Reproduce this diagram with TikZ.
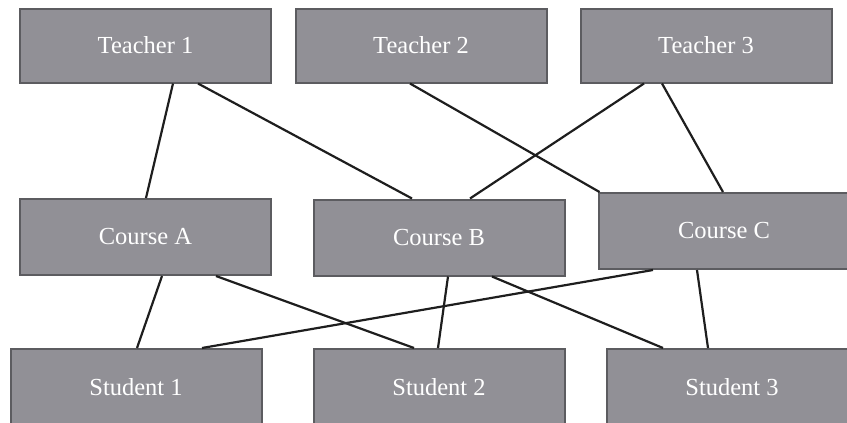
\documentclass[tikz,border=0pt]{standalone}
\usepackage{fontspec}
\setmainfont{Liberation Serif}
\begin{document}
\begin{tikzpicture}[x=1pt,y=-1pt,
  box/.style={draw=boxborder, line width=2pt, fill=boxfill, text=white,
    minimum width=251pt, minimum height=74pt, inner sep=0pt, font=\fontsize{24.5}{27}\selectfont},
  link/.style={draw=linkcol, line width=2.2pt}]
\definecolor{boxfill}{RGB}{145,144,150}
\definecolor{boxborder}{RGB}{92,92,96}
\definecolor{linkcol}{RGB}{30,30,30}
\useasboundingbox (0,0) rectangle (847,423);
\clip (0,0) rectangle (847,423);
\node[box] (t1) at (145.5,45.5) {Teacher 1};
\node[box] (t2) at (421,45.5) {Teacher 2};
\node[box] (t3) at (706,45.5) {Teacher 3};
\node[box, minimum height=76pt] (ca) at (145.5,237) {Course A};
\node[box, minimum height=76pt] (cb) at (439,237.5) {Course B};
\node[box, minimum height=76pt] (cc) at (724,231) {Course C};
\node[box, minimum height=76pt] (s1) at (136,387) {Student 1};
\node[box, minimum height=76pt] (s2) at (439,387) {Student 2};
\node[box, minimum height=76pt] (s3) at (732,387) {Student 3};
\draw[link] ([xshift=27.5pt]t1.south) -- ([xshift=0.5pt]ca.north);
\draw[link] ([xshift=52.5pt]t1.south) -- ([xshift=-27pt]cb.north);
\draw[link] ([xshift=-11pt]t2.south) -- ([xshift=2pt]cc.north west);
\draw[link] ([xshift=-62pt]t3.south) -- ([xshift=31pt]cb.north);
\draw[link] ([xshift=-44pt]t3.south) -- ([xshift=-1pt]cc.north);
\draw[link] ([xshift=16.5pt]ca.south) -- ([xshift=1pt]s1.north);
\draw[link] ([xshift=70.5pt]ca.south) -- ([xshift=-25pt]s2.north);
\draw[link] ([xshift=-71pt]cc.south) -- ([xshift=66pt]s1.north);
\draw[link] ([xshift=9pt]cb.south) -- ([xshift=-1pt]s2.north);
\draw[link] ([xshift=53pt]cb.south) -- ([xshift=-69pt]s3.north);
\draw[link] ([xshift=-27pt]cc.south) -- ([xshift=-24pt]s3.north);
\end{tikzpicture}
\end{document}
